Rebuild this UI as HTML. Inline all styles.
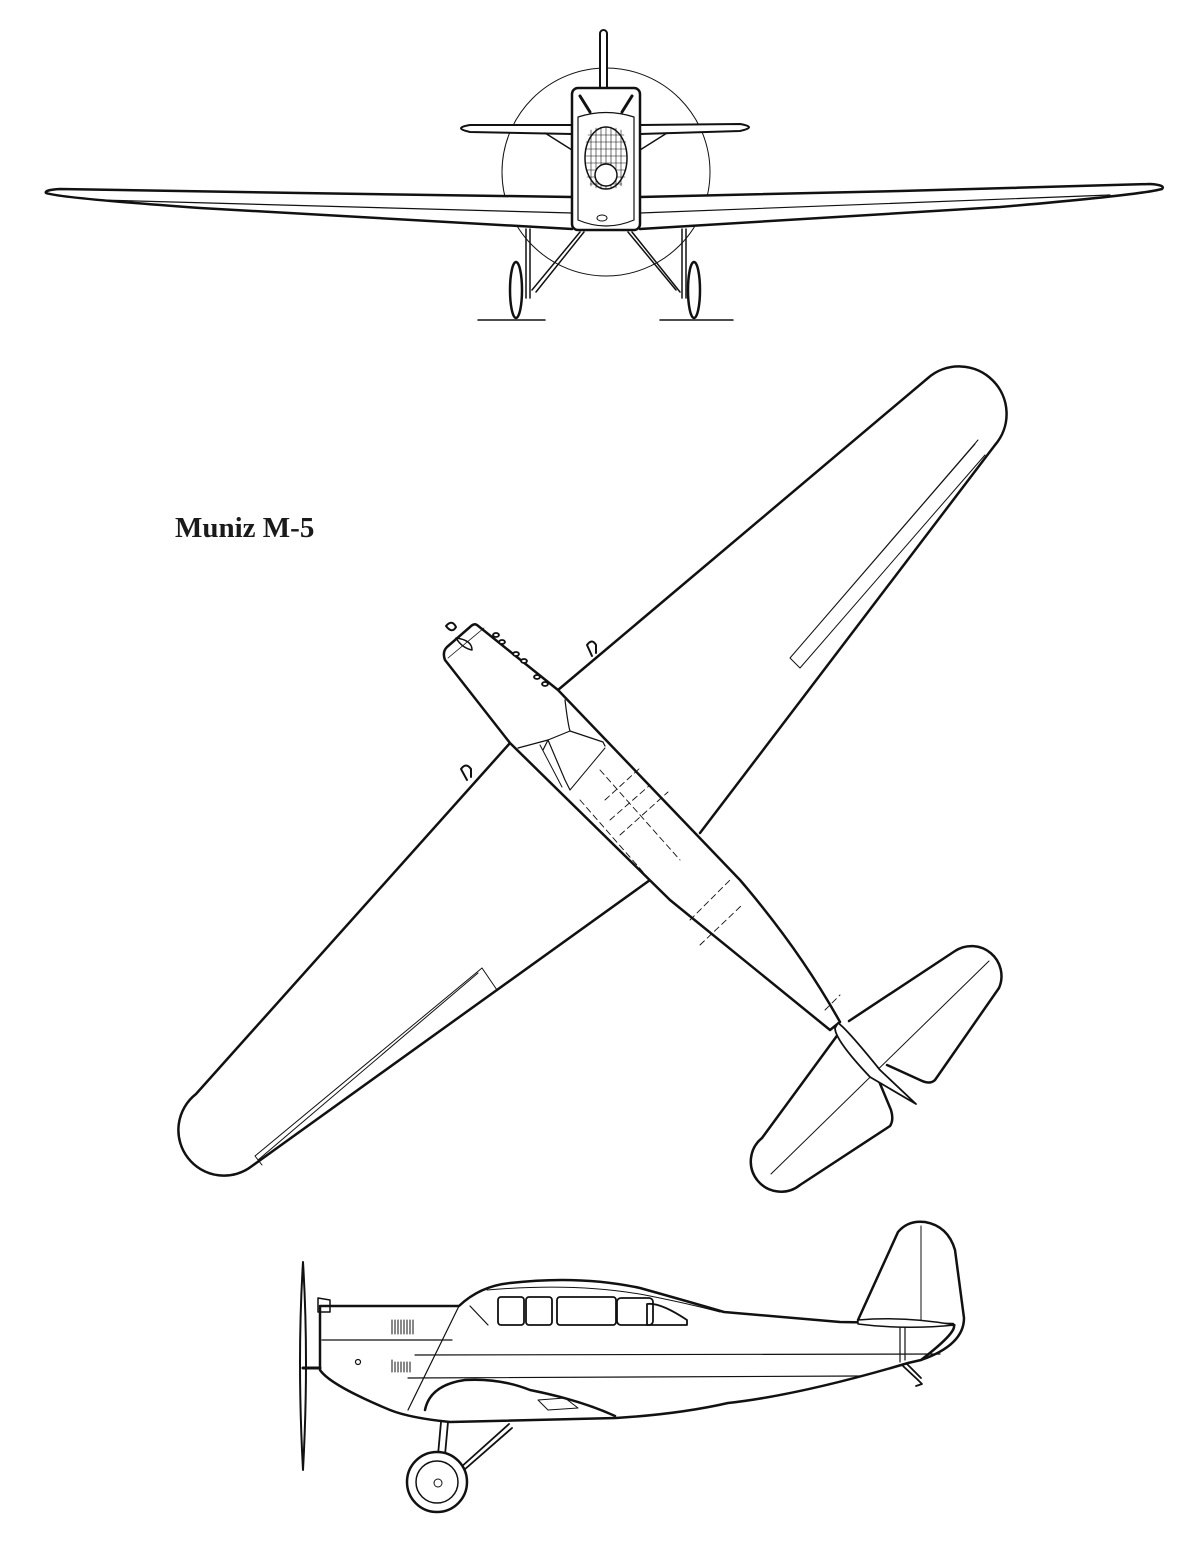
<!DOCTYPE html>
<html><head><meta charset="utf-8"><style>
html,body{margin:0;padding:0;background:#fff;}
svg{display:block;}
</style></head><body>
<svg width="1200" height="1554" viewBox="0 0 1200 1554" xmlns="http://www.w3.org/2000/svg" fill="none" stroke="#111" stroke-linejoin="round" stroke-linecap="round">
<!-- ===== FRONT VIEW ===== -->
<circle cx="606" cy="172" r="104" stroke-width="1"/>
<path d="M572,197 L300,193 L60,189 Q44,190 46,193 Q60,198 200,208 L572,229" stroke-width="2.5" fill="#fff"/>
<path d="M640,197 L900,191 L1150,184 Q1166,185 1162,189 Q1140,195 1000,207 L640,229" stroke-width="2.5" fill="#fff"/>
<path d="M100,200 L572,213 M640,213 L1110,195" stroke-width="1.2"/>
<path d="M572,125 L470,125 Q452,128 470,132 L572,134 Z" stroke-width="2" fill="#fff"/>
<path d="M640,125 L740,124 Q758,127 740,131 L640,134 Z" stroke-width="2" fill="#fff"/>
<path d="M545,133 L572,150 M667,133 L640,150" stroke-width="1.5"/>
<rect x="600" y="30" width="7" height="60" rx="3.5" stroke-width="2" fill="#fff"/>
<rect x="572" y="88" width="68" height="142" rx="6" stroke-width="2.5" fill="#fff"/>
<path d="M578,117 Q606,108 634,117 L634,220 Q606,232 578,220 Z" stroke-width="1.2"/>
<path d="M580,96 L590,112 M632,96 L622,112" stroke-width="3"/>
<ellipse cx="606" cy="158" rx="21" ry="31" stroke-width="1.5" fill="#fff"/>
<g stroke-width="0.6">
<path d="M588,135 H624 M586,142 H626 M585,149 H627 M585,156 H627 M585,163 H627 M586,170 H626 M587,177 H625 M590,184 H622"/>
<path d="M591,130 V186 M596,128 V188 M601,127 V189 M606,127 V189 M611,127 V189 M616,128 V188 M621,130 V186"/>
</g>
<circle cx="606" cy="175" r="11" stroke-width="1.5" fill="#fff"/>
<ellipse cx="602" cy="218" rx="5" ry="3" stroke-width="1"/>
<path d="M526,229 L526,298 M530,229 L530,298" stroke-width="1.5"/>
<path d="M580,232 L532,290 M584,232 L536,292" stroke-width="1.5"/>
<path d="M682,229 L682,298 M686,229 L686,298" stroke-width="1.5"/>
<path d="M628,232 L676,290 M632,232 L680,292" stroke-width="1.5"/>
<ellipse cx="516" cy="290" rx="6" ry="28" stroke-width="2.5" fill="#fff"/>
<ellipse cx="694" cy="290" rx="6" ry="28" stroke-width="2.5" fill="#fff"/>
<path d="M478,320 H545 M660,320 H733" stroke-width="1.5"/>

<!-- ===== TOP VIEW ===== -->
<path d="M558,690 L928,378 A47.5,47.5 0 0 1 995,445 L700,833" stroke-width="2.5" fill="#fff"/>
<path d="M975,444 L790,658 L800,668 L985,455 M790,658 L978,440" stroke-width="1"/>
<path d="M510,743 L196,1094 A45.6,45.6 0 0 0 252,1166 L650,880" stroke-width="2.5" fill="#fff"/>
<path d="M482,968 L255,1156 L262,1165 M482,968 L497,990 M478,973 L258,1160" stroke-width="1"/>
<path d="M592,656 L587,645 Q592,638 596,645 L596,653" stroke-width="2"/>
<path d="M467,780 L461,769 Q466,762 471,769 L471,777" stroke-width="2"/>
<path d="M849,1021 L955,951 A30,30 0 0 1 999,988 L935,1080 Q930,1085 920,1080 L887,1065" stroke-width="2.5" fill="#fff"/>
<path d="M839,1033 L762,1138 A30,30 0 0 0 800,1185 L890,1126 Q894,1120 891,1110 L876,1074" stroke-width="2.5" fill="#fff"/>
<path d="M989,961 L771,1174" stroke-width="1"/>
<path d="M477,625 L558,690 L740,880 Q800,950 840,1022 L830,1030 L670,900 L510,743 L445,660 Q442,652 447,647 L470,627 Q474,623 477,625 Z" stroke-width="2.5" fill="#fff"/>
<path d="M448,658 L484,628" stroke-width="0.8"/>
<path d="M565,700 Q568,725 570,731 L548,740 L518,748 M570,731 L603,742 L605,746 M548,740 L565,780 L570,790 M548,740 L543,750" stroke-width="1.2"/>
<path d="M570,790 L605,748 M540,745 L562,787" stroke-width="1"/>
<g stroke-width="0.9" stroke-dasharray="6,4">
<path d="M605,800 L640,768 M610,820 L650,785 M620,835 L668,792 M690,920 L730,880 M700,945 L742,905 M825,1010 L840,995"/>
<path d="M600,770 L680,860 M580,800 L650,880"/>
</g>
<g stroke-width="1.8" fill="#fff">
<ellipse cx="496" cy="635" rx="3" ry="2"/><ellipse cx="502" cy="642" rx="3" ry="2"/>
<ellipse cx="516" cy="654" rx="3" ry="2"/><ellipse cx="524" cy="661" rx="3" ry="2"/>
<ellipse cx="537" cy="677" rx="3" ry="2"/><ellipse cx="545" cy="684" rx="3" ry="2"/>
</g>
<path d="M446,626 Q452,619 456,627 Q452,634 446,626 Z" stroke-width="2" fill="#fff"/>
<path d="M456,638 Q472,640 472,650 Q462,648 456,638 Z" stroke-width="1.5"/>
<path d="M838,1023 Q846,1028 880,1070 L916,1104 L870,1077 Q835,1040 835,1028 Z" stroke-width="1.8" fill="#fff"/>

<text x="175" y="537" font-family="'Liberation Serif',serif" font-weight="bold" font-size="29" fill="#1a1a1a" stroke="none">Muniz M-5</text>

<!-- ===== SIDE VIEW ===== -->
<path d="M858,1320 L898,1232 Q908,1220 925,1222 Q948,1226 955,1250 L964,1318 Q964,1345 921,1360" stroke-width="2.5" fill="#fff"/>
<path d="M921,1226 V1350" stroke-width="1"/>
<path d="M320,1306 L459,1306 Q480,1286 510,1283 Q580,1275 640,1288 Q690,1302 724,1312 L840,1322 L953,1324 Q960,1330 921,1360 L908,1363 Q800,1395 728,1403 Q680,1414 616,1418 L450,1422 Q410,1418 390,1410 Q330,1385 320,1370 Z" stroke-width="2.5" fill="#fff"/>
<path d="M318,1298 L318,1312 L330,1312 L330,1300 Z" stroke-width="1.5"/>
<path d="M320,1310 V1370" stroke-width="2"/>
<path d="M459,1306 L408,1410 M470,1306 L488,1325" stroke-width="1.2"/>
<path d="M322,1340 L452,1340 M415,1355 L940,1354 M408,1378 L860,1376 M900,1320 V1362 M905,1322 V1360" stroke-width="1.2"/>
<path d="M487,1290 Q580,1282 650,1296 Q690,1304 720,1312" stroke-width="1"/>
<g stroke-width="1.8">
<rect x="498" y="1297" width="26" height="28" rx="3"/><rect x="526" y="1297" width="26" height="28" rx="3"/>
<rect x="557" y="1297" width="59" height="28" rx="3"/><rect x="617" y="1298" width="36" height="27" rx="4"/>
<path d="M647,1325 L647,1304 Q660,1302 687,1320 L687,1325 Z"/>
</g>
<g stroke-width="1"><path d="M392,1320 V1334 M395,1320 V1334 M398,1320 V1334 M401,1320 V1334 M404,1320 V1334 M407,1320 V1334 M410,1320 V1334 M413,1320 V1334"/>
<path d="M392,1360 V1372 M395,1362 V1372 M398,1362 V1372 M401,1362 V1372 M404,1362 V1372 M407,1362 V1372 M410,1362 V1372"/></g>
<circle cx="358" cy="1362" r="2.5" stroke-width="1.2"/>
<path d="M425,1410 Q430,1385 465,1380 Q500,1378 530,1390 Q580,1400 615,1416" stroke-width="2.5"/>
<path d="M538,1400 L548,1410 L578,1408 L565,1398 Z" stroke-width="1"/>
<path d="M858,1320 Q905,1316 955,1325 Q905,1330 858,1324 Z" stroke-width="1.5" fill="#fff"/>
<path d="M903,1366 L918,1380 L922,1384 L916,1386 M907,1364 L921,1378" stroke-width="1.8"/>
<path d="M303,1262 Q309,1360 303,1470 Q297,1360 303,1262 Z" stroke-width="2" fill="#fff"/>
<path d="M303,1368 H320" stroke-width="3"/>
<path d="M441,1422 L438,1455 M448,1422 L445,1455" stroke-width="1.8"/>
<path d="M509,1424 L460,1468 M512,1428 L464,1470" stroke-width="1.8"/>
<circle cx="437" cy="1482" r="30" stroke-width="2.5" fill="#fff"/>
<circle cx="437" cy="1482" r="21" stroke-width="1.5"/>
<circle cx="438" cy="1483" r="4" stroke-width="1"/>
</svg>
</body></html>
